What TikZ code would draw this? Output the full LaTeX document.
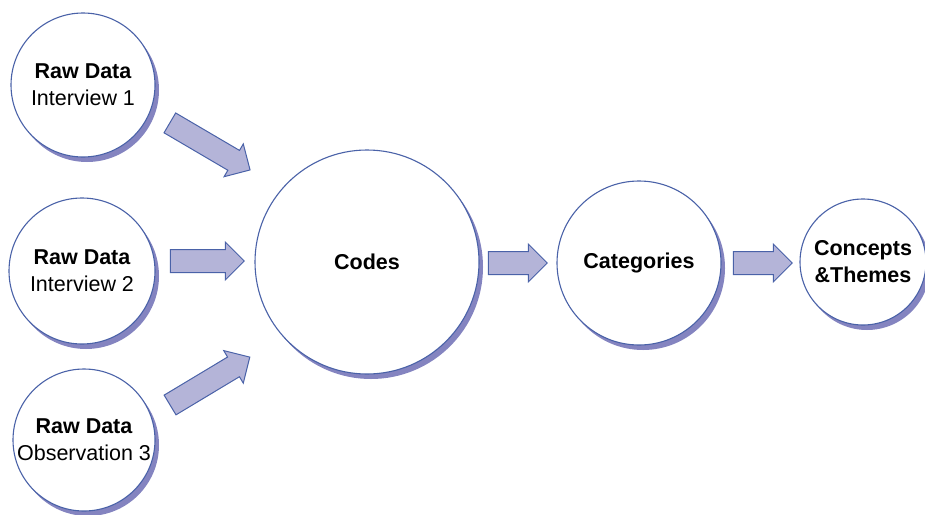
\documentclass[tikz,border=0pt]{standalone}
\usepackage{fontspec}
\setmainfont{Liberation Sans}
\usetikzlibrary{shapes.arrows,shadows}

\definecolor{ringblue}{HTML}{4A62A8}
\definecolor{arrowfill}{HTML}{B4B4D8}
\definecolor{shadeblue}{HTML}{8484C0}

\begin{document}
\begin{tikzpicture}[
  x=1pt, y=-1pt,
  stage/.style={circle, draw=ringblue, line width=1.1pt, fill=white, align=center, inner sep=0pt,
    font=\fontsize{21.5}{27}\selectfont\bfseries,
    general shadow={fill=shadeblue, shadow xshift=4pt, shadow yshift=-5pt}},
  flow/.style={single arrow, draw=ringblue, line width=1pt, fill=arrowfill, inner sep=0pt,
    text height=22pt, text depth=0pt, single arrow head extend=7.5pt, single arrow head indent=0pt}
]
  \useasboundingbox (0,0) rectangle (925,514);

  % circles
  \node[stage, minimum size=144pt] (raw1) at (83,85) {Raw Data\\{\mdseries Interview 1}};
  \node[stage, minimum size=146pt] (raw2) at (82,271) {Raw Data\\{\mdseries Interview 2}};
  \node[stage, minimum size=142pt] (raw3) at (84,440) {Raw Data\\{\mdseries Observation 3}};
  \node[stage, minimum size=224pt] (codes) at (367,262) {Codes};
  \node[stage, minimum size=164pt] (cats) at (639,263) {Categories};
  \node[stage, minimum size=126pt] (concepts) at (863,262) {Concepts\\\&Themes};

  % block arrows
  \node[flow, minimum height=93pt, rotate=-30.4] (f1) at (205,143.5) {};
  \node[flow, minimum height=74pt] (f2) at (201.5,261) {};
  \node[flow, minimum height=93pt, rotate=31] (f3) at (205,384) {};
  \node[flow, minimum height=59pt] (f4) at (512,263) {};
  \node[flow, minimum height=59pt] (f5) at (757,263) {};
\end{tikzpicture}
\end{document}
